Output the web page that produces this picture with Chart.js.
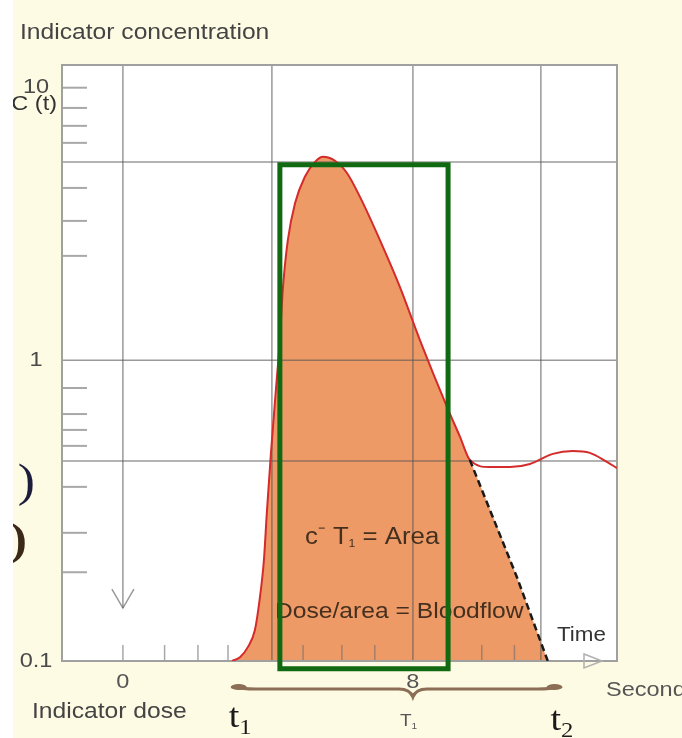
<!DOCTYPE html>
<html>
<head>
<meta charset="utf-8">
<script src="https://cdn.jsdelivr.net/npm/chart.js@4.4.0/dist/chart.umd.min.js"></script>
<style>
  html, body { margin: 0; padding: 0; background: #fefbe4; }
  #wrap { width: 682px; height: 738px; }
</style>
</head>
<body>
<div id="wrap"><canvas id="chart" width="682" height="738"></canvas></div>
<script>
// indicator dilution curve (x in seconds, y log)
const curveX = [3.01, 3.23, 3.45, 3.64, 3.77, 3.89, 3.97, 4.08, 4.22, 4.33,
  4.41, 4.55, 4.75, 5.02, 5.30, 5.52, 5.85, 6.18, 6.54, 7.09,
  7.64, 8.19, 8.94, 9.30, 9.57, 10.12, 10.68, 11.23, 11.86, 12.41,
  12.88, 13.35, 13.63];
const curveY = [0.1, 0.103, 0.112, 0.128, 0.163, 0.225, 0.328, 0.523, 0.882, 1.32,
  1.97, 2.94, 3.96, 4.89, 5.51, 5.74, 5.56, 5.04, 4.16, 2.94,
  2.02, 1.32, 0.77, 0.605, 0.503, 0.475, 0.475, 0.487, 0.528, 0.540,
  0.532, 0.495, 0.471];
const junction = 24; // where the extrapolated decay leaves the curve

// dashed extrapolation of the decay down to the baseline
const extrapX = [9.57, 10.87, 11.72];
const extrapY = [0.503, 0.196, 0.1];

// green box: mean concentration x T1
const boxX = [4.33, 8.97];
const boxY = [0.094, 5.38];

const gridX = [0, 4.11, 8, 11.53];
const gridY = [5.51, 1.12, 0.499];
const minorX = [0, 1.15, 2.07, 2.9, 4.97, 6.04, 6.95, 9.9, 10.8];
const minorY = [10, 8.5, 7.36, 6.42, 4.47, 3.43, 2.59, 0.896, 0.727, 0.64, 0.563, 0.405, 0.28, 0.204];
const xTickValues = [0, 8];
const xTickLabels = ['0', '8'];
const yTickValues = [0.1, 1.12, 10];
const yTickLabels = ['0.1', '1', '10'];
const doseArrowTip = 0.153;
const t1X = 3.0, t2X = 12.1, braceMidX = 8;

const curvePts = curveX.map((x, i) => ({ x: x, y: curveY[i] }));
const extrapPts = extrapX.map((x, i) => ({ x: x, y: extrapY[i] }));
const fillPts = curvePts.slice(0, junction + 1).concat(extrapPts.slice(1));
const boxPts = [
  { x: boxX[0], y: boxY[0] }, { x: boxX[0], y: boxY[1] },
  { x: boxX[1], y: boxY[1] }, { x: boxX[1], y: boxY[0] },
  { x: boxX[0], y: boxY[0] }, { x: boxX[0], y: boxY[1] }
];

const SANS = '"Liberation Sans", Arial, sans-serif';
const SERIF = '"Liberation Serif", "Times New Roman", serif';
const STRETCH = 1.12; // source text is a bit wide

function text(ctx, s, x, y, size, color, align, family, weight) {
  ctx.save();
  ctx.translate(x, y);
  ctx.scale(STRETCH, 1);
  ctx.font = (weight || 'normal') + ' ' + size + 'px ' + (family || SANS);
  ctx.fillStyle = color;
  ctx.textAlign = align || 'left';
  ctx.textBaseline = 'middle';
  ctx.fillText(s, 0, 0);
  ctx.restore();
}

// pieces of text on one baseline: [string, size, dy]
function runs(ctx, x, y, parts, color, family) {
  ctx.save();
  ctx.translate(x, y);
  ctx.scale(STRETCH, 1);
  ctx.fillStyle = color;
  ctx.textBaseline = 'alphabetic';
  let cx = 0;
  parts.forEach(p => {
    ctx.font = p[1] + 'px ' + (family || SANS);
    ctx.fillText(p[0], cx, p[2] || 0);
    cx += ctx.measureText(p[0]).width;
  });
  ctx.restore();
}

const decor = {
  id: 'decor',
  beforeDraw(chart) {
    const { ctx, chartArea: a } = chart;
    ctx.save();
    ctx.fillStyle = '#fefbe4';
    ctx.fillRect(0, 0, chart.width, chart.height);
    ctx.fillStyle = '#ffffff';
    ctx.fillRect(0, 0, 13, chart.height);
    ctx.fillRect(a.left, a.top, a.right - a.left, a.bottom - a.top);
    ctx.restore();
  },
  afterDatasetDraw(chart, args) {
    const { ctx, chartArea: a, scales: { x: xs, y: ys } } = chart;
    if (args.index === 0) {
      // grid, ticks and frame over the shaded area
      ctx.save();
      ctx.strokeStyle = 'rgba(85,85,85,0.6)';
      ctx.lineWidth = 1.5;
      gridX.forEach(v => {
        const px = xs.getPixelForValue(v);
        const end = v === 0 ? ys.getPixelForValue(doseArrowTip) : a.bottom;
        ctx.beginPath();
        ctx.moveTo(px, a.top);
        ctx.lineTo(px, end);
        ctx.stroke();
        if (v === 0) {
          ctx.beginPath();
          ctx.moveTo(px - 11, end - 19);
          ctx.lineTo(px, end);
          ctx.lineTo(px + 11, end - 19);
          ctx.stroke();
        }
      });
      gridY.forEach(v => {
        const py = ys.getPixelForValue(v);
        ctx.beginPath();
        ctx.moveTo(a.left, py);
        ctx.lineTo(a.right, py);
        ctx.stroke();
      });
      ctx.strokeStyle = 'rgba(110,110,110,0.6)';
      ctx.lineWidth = 1.5;
      minorX.forEach(v => {
        const px = xs.getPixelForValue(v);
        ctx.beginPath();
        ctx.moveTo(px, a.bottom - 16);
        ctx.lineTo(px, a.bottom);
        ctx.stroke();
      });
      ctx.lineWidth = 2;
      minorY.forEach(v => {
        const py = ys.getPixelForValue(v);
        ctx.beginPath();
        ctx.moveTo(a.left, py);
        ctx.lineTo(a.left + 25, py);
        ctx.stroke();
      });
      ctx.strokeStyle = '#a0a0a0';
      ctx.lineWidth = 2;
      ctx.strokeRect(a.left, a.top, a.right - a.left, a.bottom - a.top);
      ctx.restore();
    }
    if (args.index === 2) {
      runs(ctx, 305, 544, [['c', 23], ['\u207B', 20, -4], [' T', 23], ['1', 11, 3], [' = Area', 23]], '#45301f');
      runs(ctx, 275, 618, [['Dose/area = Bloodflow', 22]], '#45301f');
    }
  },
  afterDraw(chart) {
    const { ctx, chartArea: a, scales: { x: xs, y: ys } } = chart;

    text(ctx, 'Indicator concentration', 20, 33, 22, '#444444');

    yTickValues.forEach((v, i) => {
      text(ctx, yTickLabels[i], 36, ys.getPixelForValue(v), 21, '#4a4a4a', 'center');
    });
    xTickValues.forEach((v, i) => {
      text(ctx, xTickLabels[i], xs.getPixelForValue(v), a.bottom + 21, 21, '#555555', 'center');
    });

    // leftovers cut off by the slide edge
    ctx.save();
    ctx.beginPath();
    ctx.rect(13, 0, chart.width, chart.height);
    ctx.clip();
    text(ctx, 'C (t)', 57, 104, 21, '#333333', 'right');
    text(ctx, ')', 35, 484, 46, '#1c1c3c', 'right', SERIF);
    text(ctx, ')', 27, 543, 44, '#3b2818', 'right', SERIF, 'bold');
    ctx.restore();

    text(ctx, 'Time', 557, 635, 20, '#333333');

    // open arrow head on the time axis
    ctx.save();
    ctx.strokeStyle = '#b0b0b0';
    ctx.lineWidth = 1.5;
    ctx.beginPath();
    ctx.moveTo(a.right - 33, a.bottom - 7);
    ctx.lineTo(a.right - 15, a.bottom);
    ctx.lineTo(a.right - 33, a.bottom + 7);
    ctx.closePath();
    ctx.stroke();
    ctx.restore();

    text(ctx, 'Seconds', 606, 690, 21, '#555555');
    text(ctx, 'Indicator dose', 32, 712, 22, '#444444');

    // brace under the passage time
    const b1 = xs.getPixelForValue(t1X), b2 = xs.getPixelForValue(t2X), bm = xs.getPixelForValue(braceMidX);
    const y0 = a.bottom + 27;
    ctx.save();
    ctx.strokeStyle = '#8c6d55';
    ctx.fillStyle = '#8c6d55';
    ctx.lineWidth = 3;
    ctx.beginPath();
    ctx.moveTo(b1 + 4, y0 - 1);
    ctx.quadraticCurveTo(b1 + 10, y0 + 1, b1 + 24, y0 + 1);
    ctx.lineTo(bm - 14, y0 + 1);
    ctx.quadraticCurveTo(bm - 3, y0 + 1, bm, y0 + 9);
    ctx.quadraticCurveTo(bm + 3, y0 + 1, bm + 14, y0 + 1);
    ctx.lineTo(b2 - 24, y0 + 1);
    ctx.quadraticCurveTo(b2 - 10, y0 + 1, b2 - 4, y0 - 1);
    ctx.stroke();
    ctx.beginPath();
    ctx.ellipse(b1 + 7, y0 - 1, 8, 3, 0, 0, Math.PI * 2);
    ctx.ellipse(b2 - 7, y0 - 1, 8, 3, 0, 0, Math.PI * 2);
    ctx.fill();
    ctx.restore();

    runs(ctx, b1 - 3, 727, [['t', 34], ['1', 22, 7]], '#1a1a1a', SERIF);
    runs(ctx, b2 - 11, 730, [['t', 34], ['2', 22, 7]], '#1a1a1a', SERIF);
    runs(ctx, bm - 13, 726, [['T', 17], ['1', 9, 3]], '#555555');
  }
};

const ctx = document.getElementById('chart').getContext('2d');
new Chart(ctx, {
  type: 'line',
  data: {
    datasets: [
      {
        data: fillPts, fill: 'start', backgroundColor: '#ee9a66',
        borderColor: 'transparent', pointRadius: 0,
        cubicInterpolationMode: 'monotone', order: 4
      },
      {
        data: curvePts, fill: false, borderColor: '#d42b2b', borderWidth: 2,
        pointRadius: 0, cubicInterpolationMode: 'monotone', order: 3
      },
      {
        data: extrapPts, fill: false, borderColor: '#1a1a1a', borderWidth: 2.5,
        borderDash: [7, 4], pointRadius: 0, tension: 0, order: 2
      },
      {
        data: boxPts, fill: false, borderColor: '#116a11', borderWidth: 5,
        pointRadius: 0, tension: 0, clip: false, borderJoinStyle: 'miter', order: 1
      }
    ]
  },
  options: {
    responsive: false,
    animation: false,
    events: [],
    layout: { padding: { left: 62, right: 65, top: 65, bottom: 77 } },
    plugins: { legend: { display: false }, tooltip: { enabled: false } },
    scales: {
      x: { type: 'linear', min: -1.68, max: 13.63, display: false },
      y: { type: 'logarithmic', min: 0.1, max: 12, display: false }
    }
  },
  plugins: [decor]
});
</script>
</body>
</html>
